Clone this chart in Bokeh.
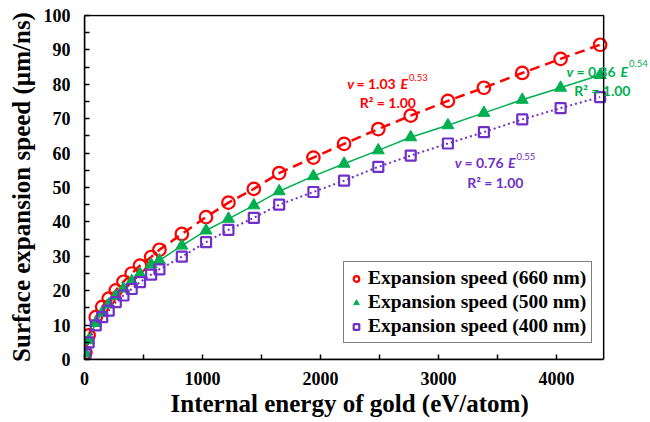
from bokeh.plotting import figure
from bokeh.models import Range1d, Legend, LegendItem, Label, FixedTicker, BoxAnnotation, Title
from bokeh.embed import file_html
from bokeh.resources import INLINE

# ---- data ----
energy = [8, 35, 95, 150, 205, 265, 330, 400, 470, 565, 635, 825, 1030, 1220,
          1435, 1650, 1940, 2200, 2490, 2765, 3080, 3385, 3710, 4035, 4370]
speed_660 = [2.0, 7.0, 12.3, 15.3, 17.7, 20.1, 22.6, 25.0, 27.3, 29.8, 31.9, 36.5,
             41.4, 45.6, 49.6, 54.2, 58.7, 62.7, 67.0, 70.9, 75.2, 79.0, 83.3, 87.4, 91.5]
speed_500 = [1.8, 5.6, 10.6, 13.6, 16.0, 18.5, 20.6, 22.8, 24.9, 27.6, 28.8, 33.1,
             37.5, 40.9, 44.8, 48.9, 53.3, 56.9, 60.8, 64.6, 68.1, 71.7, 75.5, 79.0, 82.7]
speed_400 = [1.5, 5.0, 9.9, 12.3, 14.2, 16.7, 18.6, 20.5, 22.5, 24.7, 26.2, 29.9,
             34.1, 37.7, 41.2, 45.0, 48.7, 52.0, 56.0, 59.3, 62.8, 66.1, 69.8, 73.1, 76.3]
legend_labels = ["Expansion speed (660 nm)", "Expansion speed (500 nm)", "Expansion speed (400 nm)"]
x_ticks = [0, 1000, 2000, 3000, 4000]
x_minor = [500, 1500, 2500, 3500]
y_ticks = [0, 10, 20, 30, 40, 50, 60, 70, 80, 90, 100]
y_minor = [5, 15, 25, 35, 45, 55, 65, 75, 85, 95]
X_MAX = 4400
Y_MAX = 100

RED = "#FF0000"
GREEN = "#00B050"
PURPLE = "#7030C8"

# frame extends to the window edge so that the green fit label is not clipped;
# the visible box is drawn with a BoxAnnotation up to X_MAX
p = figure(width=650, height=422, output_backend="svg", toolbar_location=None,
           x_range=Range1d(0, 4797), y_range=Range1d(0, 100.3),
           min_border_left=84, min_border_right=0, min_border_top=14, min_border_bottom=63)
p.grid.visible = False
p.outline_line_color = None
p.background_fill_color = "white"
p.border_fill_color = "white"

for ax in (p.xaxis[0], p.yaxis[0]):
    ax.axis_line_color = "black"
    ax.axis_line_width = 1.5
    ax.major_tick_in = 5
    ax.major_tick_out = 0
    ax.minor_tick_in = 5
    ax.minor_tick_out = 0
    ax.major_tick_line_width = 1.5
    ax.minor_tick_line_width = 1.5
    ax.major_label_text_font = "Liberation Serif"
    ax.major_label_text_font_style = "bold"
    ax.major_label_text_font_size = "18px"
    ax.major_label_text_color = "black"
    ax.axis_label_text_font = "Liberation Serif"
    ax.axis_label_text_font_style = "bold"
    ax.axis_label_text_font_size = "25px"
    ax.axis_label_text_color = "black"

p.xaxis.ticker = FixedTicker(ticks=x_ticks, minor_ticks=x_minor)
p.yaxis.ticker = FixedTicker(ticks=y_ticks, minor_ticks=y_minor)
p.xaxis.bounds = (0, X_MAX)
p.yaxis.bounds = (0, Y_MAX)
p.yaxis.axis_label = "Surface expansion speed (µm/ns)"
p.xaxis.major_label_standoff = 12
p.yaxis.major_label_standoff = 14
p.yaxis.axis_label_standoff = 6

# x axis title, placed under the visible box (0..X_MAX) rather than the wider frame
p.add_layout(Title(text="Internal energy of gold (eV/atom)", align="left", offset=86,
                   text_font="Liberation Serif", text_font_style="bold",
                   text_font_size="25px", text_color="black", standoff=0), "below")

p.add_layout(BoxAnnotation(left=0, right=X_MAX, bottom=0, top=Y_MAX, fill_alpha=0,
                           line_color="black", line_width=1.5, line_alpha=1))

# lines
p.line(energy, speed_660, line_color=RED, line_width=2.5, line_dash="10 6")
p.line(energy, speed_500, line_color=GREEN, line_width=1.5)
p.line(energy, speed_400, line_color=PURPLE, line_width=2, line_dash="2 3")

# markers
r1 = p.scatter(energy, speed_660, marker="circle", size=12.5, fill_color=None,
               line_color=RED, line_width=2.2)
r2 = p.scatter(energy, speed_500, marker="triangle", size=12, fill_color=GREEN,
               line_color=GREEN, line_width=1)
r3 = p.scatter(energy, speed_400, marker="square", size=10, fill_color=None,
               line_color=PURPLE, line_width=2.2)

legend = Legend(items=[LegendItem(label=legend_labels[0], renderers=[r1]),
                       LegendItem(label=legend_labels[1], renderers=[r2]),
                       LegendItem(label=legend_labels[2], renderers=[r3])],
                location=(259, 16))
legend.label_text_font = "Liberation Serif"
legend.label_text_font_style = "bold"
legend.label_text_font_size = "19.5px"
legend.label_text_color = "black"
legend.glyph_width = 14
legend.glyph_height = 21
legend.label_height = 21
legend.label_standoff = 5
legend.spacing = 2
legend.padding = 5
legend.margin = 0
legend.border_line_color = "black"
legend.border_line_width = 1.5
legend.background_fill_alpha = 1
p.add_layout(legend, "center")

# equation annotations
FONT = "Lato"
def eq(color, xv, xeq, xe, xexp, yb, yexp, coef, expo, xr, yr):
    common = dict(text_color=color, text_font=FONT, text_font_style="bold",
                  text_baseline="alphabetic", text_align="left")
    p.add_layout(Label(x=xv, y=yb, text="v", text_font_size="14px",
                       **{**common, "text_font_style": "bold italic"}))
    p.add_layout(Label(x=xeq, y=yb, text="= " + coef, text_font_size="14px", **common))
    p.add_layout(Label(x=xe, y=yb, text="E", text_font_size="14px",
                       **{**common, "text_font_style": "bold italic"}))
    p.add_layout(Label(x=xexp, y=yexp, text=expo, text_font_size="9.5px",
                       **{**common, "text_font_style": "normal"}))
    p.add_layout(Label(x=xr, y=yr, text="R² = 1.00", text_font_size="14px", **common))

eq(RED, 2226, 2305, 2678, 2750, 80.2, 82.0, "1.03", "0.53", 2332, 74.6)
eq(GREEN, 4085, 4169, 4542, 4614, 83.8, 86.0, "0.86", "0.54", 4150, 78.2)
eq(PURPLE, 3138, 3220, 3589, 3661, 57.4, 58.9, "0.76", "0.55", 3243, 51.5)

open("out.html", "w").write(file_html(p, INLINE))
